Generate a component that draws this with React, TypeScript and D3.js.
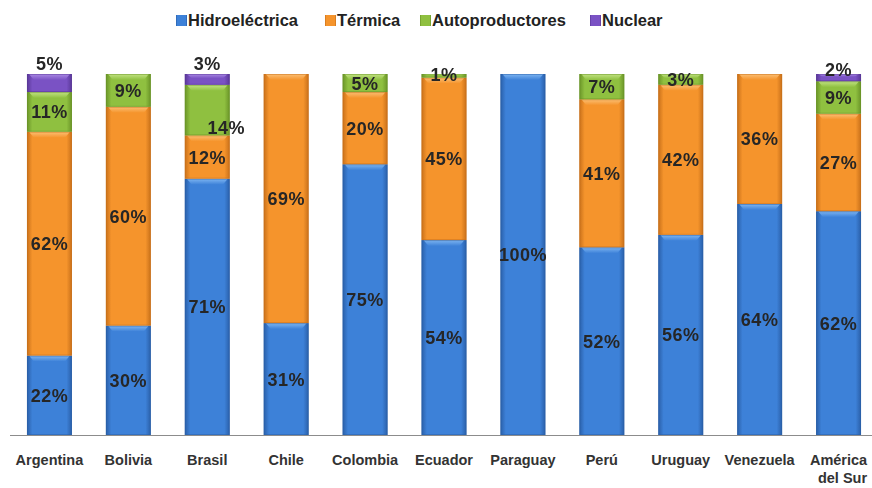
import React from "react";
import * as d3 from "d3";

const categories = ["Argentina", "Bolivia", "Brasil", "Chile", "Colombia", "Ecuador", "Paraguay", "Perú", "Uruguay", "Venezuela", "América del Sur"];
const seriesNames = ["Hidroeléctrica", "Térmica", "Autoproductores", "Nuclear"];
const hidro = [22, 30, 71, 31, 75, 54, 100, 52, 56, 64, 62];
const termica = [62, 60, 12, 69, 20, 45, 0, 41, 42, 36, 27];
const autoprod = [11, 9, 14, 0, 5, 1, 0, 7, 3, 0, 9];
const nuclear = [5, 0, 3, 0, 0, 0, 0, 0, 0, 0, 2];

const colors = ["#3d81d8", "#f5942c", "#8fc040", "#7a52c4"];
const darkColors = ["#2a5fa8", "#c8701a", "#6a9428", "#5a3898"];
const lightColors = ["#86bcf5", "#fcc57e", "#c8e78c", "#b090e8"];

// small label nudges (px) for crowded segments
const labelNudge: Record<string, [number, number]> = {
  "Argentina|Nuclear": [0, -20],
  "Brasil|Nuclear": [0, -16],
  "Brasil|Autoproductores": [19, 17],
  "América del Sur|Nuclear": [0, -8],
  "Ecuador|Autoproductores": [0, -1],
};

export default function App() {
  const W = 872, H = 488;
  const y0 = 435, y1 = 74;
  const rows = categories.map((c, i) => ({
    cat: c,
    "Hidroeléctrica": hidro[i],
    "Térmica": termica[i],
    "Autoproductores": autoprod[i],
    "Nuclear": nuclear[i],
  }));
  const stack = d3.stack<any>().keys(seriesNames).offset(d3.stackOffsetExpand);
  const layers = stack(rows);
  const x = d3.scaleBand<string>().domain(categories).range([10, 878]).paddingInner(0.43).paddingOuter(0.215);
  const y = d3.scaleLinear().domain([0, 1]).range([y0, y1]);
  const bw = x.bandwidth();
  const legendX = [176, 325, 420, 590];

  return (
    <svg width={W} height={H} style={{ position: "absolute", left: 0, top: 0, background: "#fff" }}>
      <defs>
        {colors.map((c, k) => (
          <linearGradient key={k} id={`g${k}`} x1="0" x2="1" y1="0" y2="0">
            <stop offset="0" stopColor={darkColors[k]} />
            <stop offset="0.12" stopColor={c} />
            <stop offset="0.5" stopColor={c} />
            <stop offset="0.88" stopColor={c} />
            <stop offset="1" stopColor={darkColors[k]} />
          </linearGradient>
        ))}
        {colors.map((c, k) => (
          <linearGradient key={"h" + k} id={`h${k}`} x1="0" x2="0" y1="0" y2="1">
            <stop offset="0" stopColor={lightColors[k]} />
            <stop offset="1" stopColor={c} />
          </linearGradient>
        ))}
        <filter id="blur" x="-10%" y="-10%" width="120%" height="120%">
          <feGaussianBlur stdDeviation="0.5" />
        </filter>
      </defs>

      {/* legend */}
      {seriesNames.map((s, k) => (
        <g key={s}>
          <rect x={legendX[k]} y={15} width={11} height={11} fill={`url(#g${k})`} />
          <text x={legendX[k] + 12} y={26} fontFamily="Liberation Sans, Arial, sans-serif" fontWeight="bold" fontSize={16.5} fill="#222">{s}</text>
        </g>
      ))}

      {/* bars */}
      {layers.map((layer, k) => (
        <g key={layer.key}>
          {layer.map((d, i) => {
            const cat = categories[i];
            const top = y(d[1]);
            const bot = y(d[0]);
            const h = bot - top;
            if (h <= 0.01) return null;
            const bx = x(cat)!;
            const bev = Math.min(6, h * 0.4);
            return (
              <g key={cat}>
                <rect x={bx} y={top} width={bw} height={h} fill={`url(#g${k})`} />
                <path
                  d={`M${bx + 2},${top} L${bx + bw - 2},${top} L${bx + bw - 7},${top + bev} L${bx + 7},${top + bev} Z`}
                  fill={`url(#h${k})`}
                  opacity={0.9}
                />
                <rect x={bx + 0.5} y={top + 0.5} width={bw - 1} height={h - 1} fill="none" stroke={darkColors[k]} strokeOpacity={0.5} />
              </g>
            );
          })}
        </g>
      ))}

      {/* axis line */}
      <line x1={10} x2={872} y1={y0 + 0.5} y2={y0 + 0.5} stroke="#8c8c8c" strokeWidth={1.2} />

      {/* value labels */}
      <g filter="url(#blur)">
        {layers.map((layer, k) =>
          layer.map((d, i) => {
            const cat = categories[i];
            const raw = [hidro, termica, autoprod, nuclear][k][i];
            if (!raw) return null;
            const nudge = labelNudge[`${cat}|${layer.key}`] || [0, 0];
            const cx = x(cat)! + bw / 2 + nudge[0];
            const cy = (y(d[0]) + y(d[1])) / 2 + nudge[1];
            return (
              <text
                key={layer.key + cat}
                x={cx}
                y={cy}
                dy="0.36em"
                textAnchor="middle"
                fontFamily="Liberation Sans, Arial, sans-serif"
                fontWeight="bold"
                fontSize={18}
                letterSpacing={0.5}
                fill="#262626"
              >
                {raw}%
              </text>
            );
          })
        )}
      </g>

      {/* category labels */}
      {categories.map((c) => {
        const cx = x(c)! + bw / 2;
        const parts = c === "América del Sur" ? ["América", "del Sur"] : [c];
        return (
          <text key={c} x={cx} y={465} textAnchor="middle" fontFamily="Liberation Sans, Arial, sans-serif" fontWeight="bold" fontSize={14.5} fill="#333">
            {parts.map((p, j) => (
              <tspan key={j} x={cx + (j === 1 ? 4 : 0)} dy={j === 0 ? 0 : 18}>{p}</tspan>
            ))}
          </text>
        );
      })}
    </svg>
  );
}
